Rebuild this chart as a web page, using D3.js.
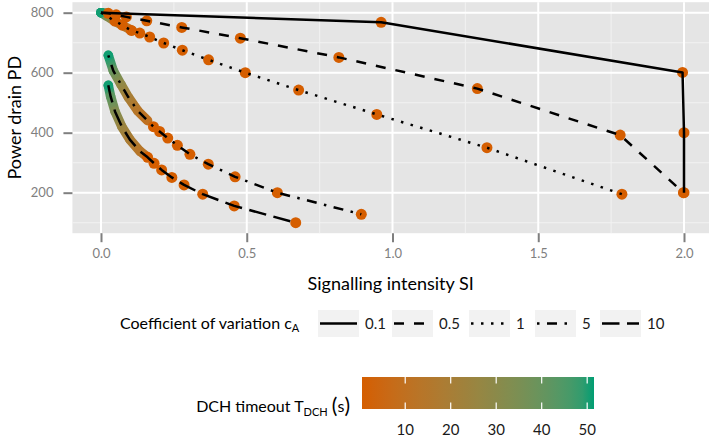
<!DOCTYPE html>
<html>
<head>
<meta charset="utf-8">
<script src="https://cdn.jsdelivr.net/npm/d3@7"></script>
<style>
  html, body { margin: 0; padding: 0; background: #fff; }
  svg { display: block; font-family: Lato, "Noto Sans", sans-serif; }
</style>
</head>
<body>
<svg id="chart" width="709" height="439"></svg>
<script>
// Coefficient of variation c_A, one curve per level
const cvLevels = ["0.1", "0.5", "1", "5", "10"];

// Long-timeout stretch of each curve (T_DCH from 51 s down to 10 s)
const trailT = [
  [51, 10],
  [51, 10],
  [51, 35, 22, 15, 10],
  [51, 40, 28, 20, 14, 10],
  [51, 42, 33, 25, 19, 14, 10]
];
const trailSI = [
  [0.0, 0.0],
  [0.0, 0.025],
  [0.0, 0.02, 0.045, 0.075, 0.108],
  [0.025, 0.042, 0.069, 0.094, 0.126, 0.160],
  [0.025, 0.033, 0.048, 0.071, 0.099, 0.134, 0.160]
];
const trailPD = [
  [800, 800],
  [800, 798],
  [800, 789, 773, 757, 740],
  [658, 607, 560, 518, 473, 440],
  [558, 521, 471, 421, 377, 338, 318]
];

// Short-timeout operating points of each curve
const pointSI = [
  [0.961, 1.995, 2.0, 2.0],
  [0.025, 0.052, 0.087, 0.157, 0.277, 0.478, 0.816, 1.291, 1.781, 1.998],
  [0.048, 0.073, 0.104, 0.133, 0.167, 0.215, 0.279, 0.369, 0.495, 0.678, 0.946, 1.324, 1.787],
  [0.180, 0.201, 0.229, 0.262, 0.305, 0.368, 0.460, 0.605, 0.893],
  [0.160, 0.182, 0.208, 0.243, 0.285, 0.349, 0.457, 0.668]
];
const pointPD = [
  [768, 601, 400, 200],
  [798, 793, 786, 773, 751, 715, 651, 547, 392, 200],
  [772, 759, 741, 732, 719, 699, 675, 643, 600, 542, 461, 350, 195],
  [420, 404, 382, 358, 328, 295, 253, 200, 128],
  [318, 298, 276, 251, 226, 195, 156, 100]
];

// Axis and colour-bar ticks
const xTicks = [0, 0.5, 1, 1.5, 2];
const xMinor = [0.25, 0.75, 1.25, 1.75];
const yTicks = [200, 400, 600, 800];
const yMinor = [100, 300, 500, 700];
const timeoutTicks = [10, 20, 30, 40, 50];
const timeoutRange = [0.5, 51.5];

// ---------------------------------------------------------------
const svg = d3.select("#chart");
const W = 709, H = 439;

const x = d3.scaleLinear().domain([0, 2]).range([101, 684]);
const y = d3.scaleLinear().domain([200, 800]).range([192.7, 12.7]);
const colour = d3.scaleLinear().domain(timeoutRange)
  .range(["#D55E00", "#009E73"]).interpolate(d3.interpolateLab);

const panel = { left: x(-0.098), right: W, top: y(835), bottom: y(65) };

const dashFor = {
  "0.1": null,
  "0.5": "10 10",
  "1": "2.5 7.5",
  "5": "2.5 7.5 10 7.5",
  "10": "17.5 7.5"
};
const lineWidth = 2.5;

const defs = svg.append("defs");
defs.append("clipPath").attr("id", "panel-clip")
  .append("rect")
  .attr("x", panel.left).attr("y", panel.top)
  .attr("width", panel.right - panel.left).attr("height", panel.bottom - panel.top);

// Panel background and grid
svg.append("rect")
  .attr("x", panel.left).attr("y", panel.top)
  .attr("width", panel.right - panel.left).attr("height", panel.bottom - panel.top)
  .attr("fill", "#E5E5E5");

const grid = svg.append("g");
grid.selectAll(".xminor").data(xMinor).join("line")
  .attr("x1", d => x(d)).attr("x2", d => x(d))
  .attr("y1", panel.top).attr("y2", panel.bottom)
  .attr("stroke", "#F2F2F2").attr("stroke-width", 1);
grid.selectAll(".yminor").data(yMinor).join("line")
  .attr("x1", panel.left).attr("x2", panel.right)
  .attr("y1", d => y(d)).attr("y2", d => y(d))
  .attr("stroke", "#F2F2F2").attr("stroke-width", 1);
grid.selectAll(".xmajor").data(xTicks).join("line")
  .attr("x1", d => x(d)).attr("x2", d => x(d))
  .attr("y1", panel.top).attr("y2", panel.bottom)
  .attr("stroke", "#fff").attr("stroke-width", 2);
grid.selectAll(".ymajor").data(yTicks).join("line")
  .attr("x1", panel.left).attr("x2", panel.right)
  .attr("y1", d => y(d)).attr("y2", d => y(d))
  .attr("stroke", "#fff").attr("stroke-width", 2);

const plot = svg.append("g").attr("clip-path", "url(#panel-clip)");

// Thick timeout-coloured trails
const trailLayer = plot.append("g");
cvLevels.forEach((lvl, i) => {
  const pts = trailT[i].map((t, k) => ({ t, px: x(trailSI[i][k]), py: y(trailPD[i][k]) }));
  for (let k = 0; k < pts.length - 1; k++) {
    const a = pts[k], b = pts[k + 1];
    const id = `trail-${i}-${k}`;
    const g = defs.append("linearGradient").attr("id", id)
      .attr("gradientUnits", "userSpaceOnUse")
      .attr("x1", a.px).attr("y1", a.py).attr("x2", b.px).attr("y2", b.py);
    g.append("stop").attr("offset", 0).attr("stop-color", colour(a.t));
    g.append("stop").attr("offset", 1).attr("stop-color", colour(b.t));
    const same = Math.hypot(b.px - a.px, b.py - a.py) < 0.01;
    trailLayer.append("line")
      .attr("x1", a.px).attr("y1", a.py).attr("x2", b.px).attr("y2", b.py)
      .attr("stroke", same ? colour(a.t) : `url(#${id})`)
      .attr("stroke-width", 9.5).attr("stroke-linecap", "round");
  }
  trailLayer.append("circle")
    .attr("cx", pts[0].px).attr("cy", pts[0].py).attr("r", 4.75)
    .attr("fill", colour(pts[0].t));
});

// Operating points
const pointLayer = plot.append("g");
cvLevels.forEach((lvl, i) => {
  pointLayer.selectAll(null).data(pointSI[i].map((s, k) => [s, pointPD[i][k]]))
    .join("circle")
    .attr("cx", d => x(d[0])).attr("cy", d => y(d[1])).attr("r", 5.5)
    .attr("fill", "#D55E00");
});

// Black curves, one line style per c_A
const lineGen = d3.line().x(d => x(d[0])).y(d => y(d[1]));
const lineLayer = plot.append("g");
cvLevels.forEach((lvl, i) => {
  const all = trailSI[i].map((s, k) => [s, trailPD[i][k]])
    .concat(pointSI[i].map((s, k) => [s, pointPD[i][k]]));
  all.sort((a, b) => a[0] - b[0] || b[1] - a[1]);
  lineLayer.append("path")
    .attr("d", lineGen(all))
    .attr("fill", "none").attr("stroke", "#000")
    .attr("stroke-width", lineWidth)
    .attr("stroke-linejoin", "round").attr("stroke-linecap", "butt")
    .attr("stroke-dasharray", dashFor[lvl]);
});

// Axes
const axisY = svg.append("g").attr("transform", `translate(${panel.left},0)`)
  .call(d3.axisLeft(y).tickValues(yTicks).tickSize(9).tickPadding(10).tickFormat(d3.format("d")));
const axisX = svg.append("g").attr("transform", `translate(0,${panel.bottom})`)
  .call(d3.axisBottom(x).tickValues(xTicks).tickSize(9).tickPadding(7).tickFormat(d3.format(".1f")));
[axisX, axisY].forEach(ax => {
  ax.select(".domain").remove();
  ax.selectAll(".tick line").attr("stroke", "#7F7F7F").attr("stroke-width", 2);
  ax.selectAll(".tick text").attr("fill", "#7F7F7F").attr("font-size", 13)
    .attr("font-family", "Lato, 'Noto Sans', sans-serif");
});

// Axis titles
svg.append("text")
  .attr("x", (panel.left + panel.right) / 2).attr("y", 290)
  .attr("text-anchor", "middle").attr("font-size", 18).attr("fill", "#000")
  .text("Signalling intensity SI");
svg.append("text")
  .attr("transform", `translate(20.5,${(panel.top + panel.bottom) / 2}) rotate(-90)`)
  .attr("text-anchor", "middle").attr("font-size", 18).attr("fill", "#000")
  .text("Power drain PD");

// Line-style legend
const legTitle = svg.append("text").attr("x", 120).attr("y", 328.5)
  .attr("font-size", 16).attr("fill", "#000");
legTitle.append("tspan").text("Coefficient of variation c");
legTitle.append("tspan").attr("font-size", 11).attr("dy", 3.5).text("A");

const keyX = [318, 392, 469, 535, 600];
const keyW = 41, keyTop = 310, keyH = 27;
cvLevels.forEach((lvl, i) => {
  const g = svg.append("g");
  g.append("rect").attr("x", keyX[i]).attr("y", keyTop)
    .attr("width", keyW).attr("height", keyH).attr("fill", "#F2F2F2");
  g.append("line")
    .attr("x1", keyX[i] + 2).attr("x2", keyX[i] + keyW - 2)
    .attr("y1", keyTop + keyH / 2).attr("y2", keyTop + keyH / 2)
    .attr("stroke", "#000").attr("stroke-width", lineWidth)
    .attr("stroke-dasharray", dashFor[lvl]);
  g.append("text").attr("x", keyX[i] + keyW + 6).attr("y", 329)
    .attr("font-size", 15).attr("fill", "#1a1a1a").text(lvl);
});

// Colour bar for T_DCH
const bar = { left: 362, right: 594, top: 377, bottom: 409 };
const cx = d3.scaleLinear().domain(timeoutRange).range([bar.left, bar.right]);
const grad = defs.append("linearGradient").attr("id", "timeout-bar")
  .attr("x1", 0).attr("x2", 1).attr("y1", 0).attr("y2", 0);
d3.range(0, 1.0001, 0.05).forEach(f => {
  grad.append("stop").attr("offset", f)
    .attr("stop-color", colour(timeoutRange[0] + f * (timeoutRange[1] - timeoutRange[0])));
});
svg.append("rect").attr("x", bar.left).attr("y", bar.top)
  .attr("width", bar.right - bar.left).attr("height", bar.bottom - bar.top)
  .attr("fill", "url(#timeout-bar)");
const tickLen = (bar.bottom - bar.top) / 5;
timeoutTicks.forEach(t => {
  svg.append("line").attr("x1", cx(t)).attr("x2", cx(t))
    .attr("y1", bar.top).attr("y2", bar.top + tickLen)
    .attr("stroke", "#fff").attr("stroke-width", 1.2);
  svg.append("line").attr("x1", cx(t)).attr("x2", cx(t))
    .attr("y1", bar.bottom - tickLen).attr("y2", bar.bottom)
    .attr("stroke", "#fff").attr("stroke-width", 1.2);
  svg.append("text").attr("x", cx(t)).attr("y", 434.5)
    .attr("text-anchor", "middle").attr("font-size", 15).attr("fill", "#1a1a1a")
    .text(t);
});

const barTitle = svg.append("text").attr("x", 350).attr("y", 412)
  .attr("text-anchor", "end").attr("font-size", 16).attr("fill", "#000");
barTitle.append("tspan").text("DCH timeout T");
barTitle.append("tspan").attr("font-size", 11).attr("dy", 3.5).text("DCH");
barTitle.append("tspan").attr("dy", -3.5).text(" ");
barTitle.append("tspan").attr("font-size", 21).attr("dy", 1).text("(");
barTitle.append("tspan").attr("dy", -1).text("s");
barTitle.append("tspan").attr("font-size", 21).attr("dy", 1).text(")");
</script>
</body>
</html>
